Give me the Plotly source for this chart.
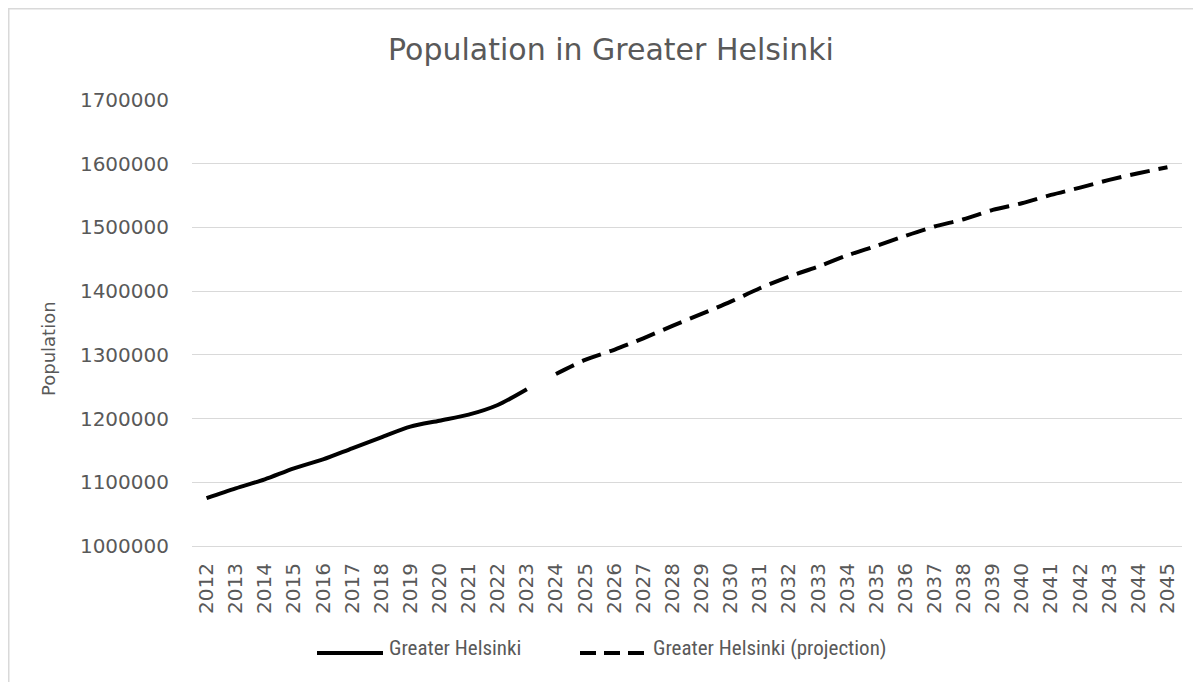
import plotly.graph_objects as go

years = ["2012", "2013", "2014", "2015", "2016", "2017", "2018", "2019", "2020", "2021", "2022",
         "2023", "2024", "2025", "2026", "2027", "2028", "2029", "2030", "2031", "2032", "2033",
         "2034", "2035", "2036", "2037", "2038", "2039", "2040", "2041", "2042", "2043", "2044", "2045"]

actual_years = ["2012", "2013", "2014", "2015", "2016", "2017", "2018", "2019", "2020", "2021", "2022", "2023"]
actual_pop = [1075000, 1090500, 1104700, 1122000, 1136000, 1153400, 1170600, 1187300, 1196700,
              1206100, 1221300, 1246000]

proj_years = ["2024", "2025", "2026", "2027", "2028", "2029", "2030", "2031", "2032", "2033", "2034",
              "2035", "2036", "2037", "2038", "2039", "2040", "2041", "2042", "2043", "2044", "2045"]
proj_pop = [1270000, 1292000, 1308000, 1326000, 1345400, 1364200, 1383500, 1404500, 1422800,
            1438500, 1456000, 1471000, 1486800, 1501400, 1512900, 1527500, 1538000, 1551000,
            1562500, 1574600, 1585000, 1594500]

y_ticks = [1000000, 1100000, 1200000, 1300000, 1400000, 1500000, 1600000, 1700000]

series_names = ["Greater Helsinki", "Greater Helsinki (projection)"]

# the page places the figure 8px in from the top-left corner of the window
OFF = 8
W, H = 1201, 682
L, R, T, B = 192 - OFF, 1182 - OFF, 100 - OFF, 546 - OFF
PW, PH = R - L, B - T


def px(x):
    """window x pixel -> paper coordinate"""
    return (x - OFF - L) / PW


def py(y):
    """window y pixel -> paper coordinate"""
    return (B - (y - OFF)) / PH


GRAY = "#595959"
GRID = "#d9d9d9"
MAIN_FONT = "DejaVu Sans"
NARROW = "Liberation Sans Narrow, Roboto Condensed, DejaVu Sans Condensed, sans-serif"

fig = go.Figure()
fig.add_trace(go.Scatter(
    x=actual_years, y=actual_pop, mode="lines", name=series_names[0],
    line=dict(color="#000000", width=4, shape="spline", smoothing=0.8),
    showlegend=False,
))
fig.add_trace(go.Scatter(
    x=proj_years, y=proj_pop, mode="lines", name=series_names[1],
    line=dict(color="#000000", width=4, dash="20px,9px", shape="spline", smoothing=0.8),
    showlegend=False,
))

shapes = [
    # chart border (outer frame)
    dict(type="rect", xref="paper", yref="paper", x0=px(8.75), x1=px(1400), y0=py(900), y1=py(8.75),
         line=dict(color=GRID, width=1.5), fillcolor="rgba(0,0,0,0)", layer="below"),
    # legend samples
    dict(type="line", xref="paper", yref="paper", x0=px(317), x1=px(383), y0=py(653), y1=py(653),
         line=dict(color="#000000", width=4)),
    dict(type="line", xref="paper", yref="paper", x0=px(580), x1=px(645), y0=py(653), y1=py(653),
         line=dict(color="#000000", width=4, dash="16px,8px")),
]

annotations = [
    dict(text="Population", xref="paper", yref="paper", x=px(48), y=py(349), showarrow=False,
         textangle=-90, font=dict(family=MAIN_FONT, size=18, color=GRAY),
         xanchor="center", yanchor="middle"),
    dict(text=series_names[0], xref="paper", yref="paper", x=px(387), y=py(648), showarrow=False,
         font=dict(family=NARROW, size=21, color=GRAY), xanchor="left", yanchor="middle"),
    dict(text=series_names[1], xref="paper", yref="paper", x=px(651), y=py(648), showarrow=False,
         font=dict(family=NARROW, size=21, color=GRAY), xanchor="left", yanchor="middle"),
]

fig.update_layout(
    width=W, height=H,
    margin=dict(l=L, r=W - R, t=T, b=H - B, autoexpand=False),
    paper_bgcolor="white", plot_bgcolor="white",
    title=dict(text="Population in Greater Helsinki", x=(611 - OFF) / W, xref="container",
               xanchor="center", y=1 - (49 - OFF) / H, yref="container", yanchor="middle",
               font=dict(family=MAIN_FONT, size=30, color=GRAY)),
    shapes=shapes,
    annotations=annotations,
    showlegend=False,
)

fig.update_xaxes(
    type="category", categoryorder="array", categoryarray=years,
    tickvals=years, ticktext=years,
    range=[-0.5, len(years) - 0.5],
    tickangle=-90, tickfont=dict(family=MAIN_FONT, size=20, color=GRAY),
    showgrid=False, zeroline=False, showline=True, linecolor=GRID, linewidth=1,
    ticks="", ticklabelstandoff=8,
)
fig.update_yaxes(
    range=[1000000, 1700000], tickvals=y_ticks, ticktext=[str(v) for v in y_ticks],
    tickfont=dict(family=MAIN_FONT, size=20, color=GRAY),
    showgrid=True, gridcolor=GRID, gridwidth=1, zeroline=False, showline=False,
    ticks="", ticklabelstandoff=22,
)

fig.write_html("out.html")
